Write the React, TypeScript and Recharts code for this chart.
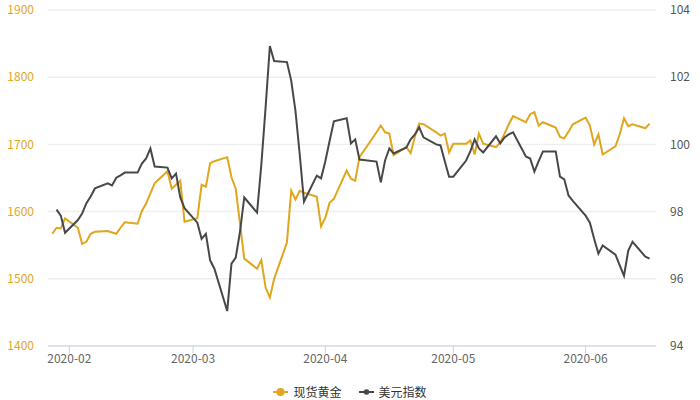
import React from 'react';
import {
  LineChart,
  Line,
  XAxis,
  YAxis,
  CartesianGrid,
  Legend,
} from 'recharts';

const dates = [
  '2020-01-28', '2020-01-29', '2020-01-30', '2020-01-31',
  '2020-02-03', '2020-02-04', '2020-02-05', '2020-02-06', '2020-02-07',
  '2020-02-10', '2020-02-11', '2020-02-12', '2020-02-13', '2020-02-14',
  '2020-02-17', '2020-02-18', '2020-02-19', '2020-02-20', '2020-02-21',
  '2020-02-24', '2020-02-25', '2020-02-26', '2020-02-27', '2020-02-28',
  '2020-03-02', '2020-03-03', '2020-03-04', '2020-03-05', '2020-03-06',
  '2020-03-09', '2020-03-10', '2020-03-11', '2020-03-12', '2020-03-13',
  '2020-03-16', '2020-03-17', '2020-03-18', '2020-03-19', '2020-03-20',
  '2020-03-23', '2020-03-24', '2020-03-25', '2020-03-26', '2020-03-27',
  '2020-03-30', '2020-03-31', '2020-04-01', '2020-04-02', '2020-04-03',
  '2020-04-06', '2020-04-07', '2020-04-08', '2020-04-09',
  '2020-04-13', '2020-04-14', '2020-04-15', '2020-04-16', '2020-04-17',
  '2020-04-20', '2020-04-21', '2020-04-22', '2020-04-23', '2020-04-24',
  '2020-04-27', '2020-04-28', '2020-04-29', '2020-04-30', '2020-05-01',
  '2020-05-04', '2020-05-05', '2020-05-06', '2020-05-07', '2020-05-08',
  '2020-05-11', '2020-05-12', '2020-05-13', '2020-05-14', '2020-05-15',
  '2020-05-18', '2020-05-19', '2020-05-20', '2020-05-21', '2020-05-22',
  '2020-05-25', '2020-05-26', '2020-05-27', '2020-05-28', '2020-05-29',
  '2020-06-01', '2020-06-02', '2020-06-03', '2020-06-04', '2020-06-05',
  '2020-06-08', '2020-06-09', '2020-06-10', '2020-06-11', '2020-06-12',
  '2020-06-15', '2020-06-16',
];

// 现货黄金
const goldPrices = [
  1567, 1576, 1575, 1590,
  1576, 1552, 1555, 1567, 1570,
  1571, 1569, 1567, 1576, 1584,
  1582, 1601, 1612, 1627, 1642,
  1660, 1634, 1640, 1646, 1585,
  1590, 1640, 1637, 1672, 1675,
  1681, 1651, 1634, 1582, 1530,
  1515, 1528, 1487, 1472, 1500,
  1554, 1631, 1618, 1631, 1628,
  1622, 1578, 1591, 1613, 1619,
  1661, 1649, 1646, 1681,
  1718, 1728, 1718, 1716, 1684,
  1696, 1687, 1712, 1731, 1730,
  1718, 1713, 1716, 1688, 1701,
  1701, 1706, 1685, 1716, 1701,
  1696, 1703, 1716, 1730, 1742,
  1733, 1745, 1748, 1728, 1733,
  1725, 1711, 1709, 1719, 1730,
  1740, 1728, 1700, 1715, 1685,
  1697, 1715, 1739, 1727, 1730,
  1724, 1731,
];

// 美元指数
const usdIndex = [
  null, 98.06, 97.88, 97.37,
  97.75, 97.94, 98.25, 98.45, 98.69,
  98.84, 98.78, 99.01, 99.08, 99.16,
  99.16, 99.43, 99.58, 99.88, 99.34,
  99.31, 98.99, 99.13, 98.42, 98.1,
  97.67, 97.19, 97.34, 96.55, 96.3,
  95.04, 96.45, 96.63, 97.4, 98.42,
  97.97, 99.4, 101.1, 102.93, 102.48,
  102.45, 101.9, 101.0, 99.7, 98.3,
  99.07, 98.99, 99.5, 100.1, 100.69,
  100.78, 100.03, 100.15, 99.55,
  99.49, 98.87, 99.52, 99.88, 99.73,
  99.91, 100.15, 100.3, 100.51, 100.21,
  100.0, 99.97, 99.5, 99.04, 99.04,
  99.52, 99.8, 100.15, 99.88, 99.76,
  100.24, 100.03, 100.21, 100.3, 100.36,
  99.64, 99.58, 99.19, 99.5, 99.79,
  99.79, 99.04, 98.96, 98.48, 98.32,
  97.88, 97.67, 97.19, 96.75, 96.99,
  96.72, 96.4, 96.09, 96.84, 97.1,
  96.66, 96.6,
];

const monthTicks = ['2020-02-01', '2020-03-01', '2020-04-01', '2020-05-01', '2020-06-01'];
const goldTicks = [1400, 1500, 1600, 1700, 1800, 1900];
const usdTicks = [94, 96, 98, 100, 102, 104];

const GOLD = '#e0a61e';
const DARK = '#484848';
const FONT = '"Noto Sans CJK SC", "Noto Sans", sans-serif';

const toTime = (d: string) => {
  const [y, m, day] = d.split('-').map(Number);
  return Date.UTC(y, m - 1, day);
};

const data = dates.map((d, i) => ({
  t: toTime(d),
  gold: goldPrices[i],
  usd: usdIndex[i],
}));

const xDomain = [toTime('2020-01-27'), toTime('2020-06-17') + 12 * 3600 * 1000];

const fmtMonth = (v: number) => {
  const d = new Date(v);
  return `${d.getUTCFullYear()}-${String(d.getUTCMonth() + 1).padStart(2, '0')}`;
};

const renderLegend = (props: any) => {
  const { payload } = props;
  return (
    <div
      style={{
        display: 'flex',
        justifyContent: 'center',
        gap: 17,
        fontFamily: FONT,
        fontSize: 12,
        color: '#333',
      }}
    >
      {payload.map((entry: any, i: number) => (
        <div key={entry.value} style={{ display: 'flex', alignItems: 'center' }}>
          <svg width={15} height={10}>
            <line x1={0} y1={5} x2={15} y2={5} stroke={entry.color} strokeWidth={2} />
            <circle cx={7.5} cy={5} r={i === 0 ? 4 : 2.8} fill={entry.color} />
          </svg>
          <span style={{ marginLeft: 5 }}>{entry.value}</span>
        </div>
      ))}
    </div>
  );
};

export default function App() {
  return (
    <div style={{ position: 'absolute', left: 0, top: 0, width: 700, height: 400, background: '#fff' }}>
      <LineChart width={700} height={400} data={data} margin={{ top: 10, right: 0, bottom: 0, left: 0 }}>
        <CartesianGrid vertical={false} stroke="#eeeeee" strokeWidth={1.5} yAxisId="gold" />
        <XAxis
          dataKey="t"
          type="number"
          scale="time"
          domain={xDomain}
          ticks={monthTicks.map(toTime)}
          tickFormatter={fmtMonth}
          height={37}
          stroke="#c6d3e6"
          tick={{ fill: '#666', fontSize: 12, fontFamily: FONT }}
          tickSize={7}
          tickMargin={1}
          allowDataOverflow
        />
        <YAxis
          yAxisId="gold"
          domain={[1400, 1900]}
          ticks={goldTicks}
          width={48}
          axisLine={false}
          tickLine={false}
          tickSize={0}
          tickMargin={14}
          tick={{ fill: GOLD, fontSize: 12, fontFamily: FONT }}
        />
        <YAxis
          yAxisId="usd"
          orientation="right"
          domain={[94, 104]}
          ticks={usdTicks}
          width={44}
          axisLine={false}
          tickLine={false}
          tickSize={0}
          tickMargin={14}
          tick={{ fill: '#555', fontSize: 12, fontFamily: FONT }}
        />
        <Legend verticalAlign="bottom" content={renderLegend} />
        <Line
          yAxisId="gold"
          type="linear"
          dataKey="gold"
          name="现货黄金"
          stroke={GOLD}
          strokeWidth={2}
          dot={false}
          isAnimationActive={false}
        />
        <Line
          yAxisId="usd"
          type="linear"
          dataKey="usd"
          name="美元指数"
          stroke={DARK}
          strokeWidth={2}
          dot={false}
          isAnimationActive={false}
        />
      </LineChart>
    </div>
  );
}
